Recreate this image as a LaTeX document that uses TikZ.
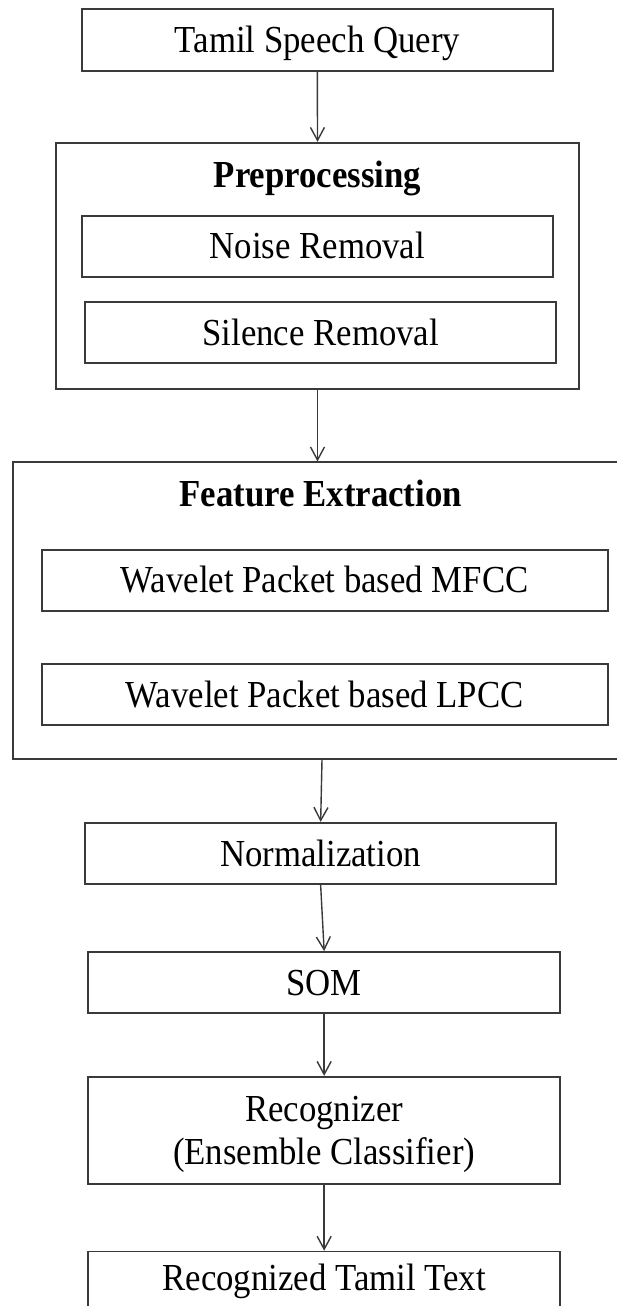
\documentclass[tikz,border=0pt]{standalone}
\usepackage{fontspec}
\setmainfont{Liberation Serif}[FakeStretch=0.91]
\usetikzlibrary{arrows.meta}
\definecolor{edge}{HTML}{3A3A3A}
\tikzset{
  txt/.style={font=\fontsize{38.2}{43}\selectfont},
  box/.style={txt, draw=edge, line width=1.7pt, inner sep=0pt, text height=25.3pt, text depth=0pt},
  frame/.style={draw=edge, line width=1.7pt, inner sep=0pt},
  title/.style={font=\fontsize{38.2}{43}\selectfont\bfseries, anchor=base, inner sep=0pt},
  flow/.style={draw=edge, line width=1.4pt, -{Straight Barb[length=13pt,width=14pt]}},
}
\begin{document}
\begin{tikzpicture}[x=1pt,y=-1pt]
\useasboundingbox (0,0) rectangle (616,1306);

% input
\node[box, minimum width=470.7pt, minimum height=61.4pt] (query) at (317.35,40) {Tamil Speech Query};

% preprocessing group
\node[frame, minimum width=523.6pt, minimum height=246.3pt] (pre) at (317.5,265.85) {};
\node[title] (pretitle) at (317.5,187) {Preprocessing};
\node[box, minimum width=470.7pt, minimum height=61pt] (noise) at (317.35,246.2) {Noise Removal};
\node[box, minimum width=470.7pt, minimum height=61.6pt] (silence) at (320.65,332.5) {Silence Removal};

% feature extraction group
\node[frame, minimum width=618.6pt, minimum height=297pt] (fe) at (322,610.8) {};
\node[title] (fetitle) at (320.8,506) {Feature Extraction};
\node[box, minimum width=566pt, minimum height=61pt] (mfcc) at (324.7,580.2) {Wavelet Packet based MFCC};
\node[box, minimum width=566pt, minimum height=61.3pt] (lpcc) at (324.7,694.35) {Wavelet Packet based LPCC};

% later stages
\node[box, minimum width=470.7pt, minimum height=61.6pt] (norm) at (320.65,853.5) {Normalization};
\node[box, minimum width=471.7pt, minimum height=61.3pt] (som) at (324.15,982.65) {SOM};
\node[txt, draw=edge, line width=1.7pt, inner sep=0pt, align=center, text depth=0pt,
      minimum width=471.7pt, minimum height=107.6pt] (rec) at (324.15,1130.5) {Recognizer\\(Ensemble Classifier)};
\node[box, anchor=north, minimum width=471.7pt, text height=39.3pt, text depth=21pt] (out) at (324.15,1250.7) {Recognized Tamil Text};

% connectors
\draw[flow] (query.south) -- (pre.north);
\draw[flow] (pre.south) -- (pre.south |- fe.north);
\draw[flow] (fe.south) -- (norm.north);
\draw[flow] (norm.south) -- (som.north);
\draw[flow] (som.south) -- (rec.north);
\draw[flow] (rec.south) -- (out.north);
\end{tikzpicture}
\end{document}
